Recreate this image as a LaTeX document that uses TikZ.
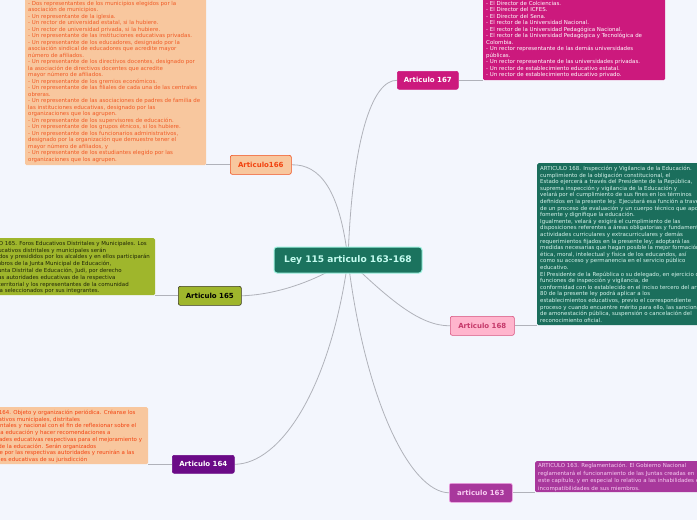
\documentclass[tikz,border=0pt]{standalone}
\usepackage{fontspec}
\setmainfont{DejaVu Sans}
\setsansfont{DejaVu Sans}
\pgfdeclarelayer{bg}
\pgfdeclarelayer{edges}
\pgfsetlayers{bg,edges,main}
\definecolor{bgc}{HTML}{F3F6FD}
\definecolor{edgec}{HTML}{B0B2BA}
\definecolor{cfill}{HTML}{1B735E}
\definecolor{cborder}{HTML}{9FF2E0}
\definecolor{ctext}{HTML}{C4FBEF}
\definecolor{magfill}{HTML}{CC197D}
\definecolor{orfill}{HTML}{F8C79E}
\definecolor{orborder}{HTML}{F0501E}
\definecolor{ortext}{HTML}{F2420F}
\definecolor{orboxtext}{HTML}{F05A24}
\definecolor{olfill}{HTML}{9FB62C}
\definecolor{olborder}{HTML}{3A3A20}
\definecolor{oltext}{HTML}{1E2408}
\definecolor{purfill}{HTML}{6B0A87}
\definecolor{pkfill}{HTML}{FFB5CD}
\definecolor{pkborder}{HTML}{D8527E}
\definecolor{pktext}{HTML}{C5396A}
\definecolor{grfill}{HTML}{1B6E5C}
\definecolor{grtext}{HTML}{D8F4EC}
\definecolor{vifill}{HTML}{A8389C}
\definecolor{viborder}{HTML}{F3A6E6}
\definecolor{vitext}{HTML}{F8CDF2}
\newcommand{\smallfs}{\fontsize{5.45}{6.5}\selectfont}
\tikzset{
  art/.style={rounded corners=2pt, inner sep=0pt, font=\fontsize{7}{8}\selectfont\bfseries, line width=0.6pt, anchor=north west},
  detbox/.style={rounded corners=1.5pt, inner sep=0pt, anchor=north west, draw=none},
  dettext/.style={inner sep=0pt, anchor=north west, align=left, font=\smallfs},
  conn/.style={draw=edgec, line width=0.8pt},
}
\begin{document}
\begin{tikzpicture}[x=1pt,y=-1pt]
\useasboundingbox (0,0) rectangle (697,520);
\clip (0,0) rectangle (697,520);
\begin{pgfonlayer}{bg}
\fill[bgc] (0,0) rectangle (697,520);
\end{pgfonlayer}

% central
\node[rounded corners=3pt, fill=cfill, draw=cborder, line width=1pt, minimum width=148pt, minimum height=26pt, inner sep=0pt, text=ctext, font=\fontsize{9.1}{11}\selectfont\bfseries] (c) at (348,260) {Ley 115 articulo 163-168};

% article nodes
\node[art, fill=magfill, draw=magfill, text=white, minimum width=61pt, minimum height=18pt] (a167) at (397,71) {Articulo 167};
\node[art, fill=orfill, draw=orborder, text=ortext, minimum width=61pt, minimum height=19pt] (a166) at (230,155) {Articulo166};
\node[art, fill=olfill, draw=olborder, text=black, minimum width=63pt, minimum height=19pt] (a165) at (178,286) {Articulo 165};
\node[art, fill=purfill, draw=purfill, text=white, minimum width=62pt, minimum height=18pt] (a164) at (172,455) {Articulo 164};
\node[art, fill=pkfill, draw=pkborder, text=pktext, minimum width=64pt, minimum height=19pt] (a168) at (450,316) {Articulo 168};
\node[art, fill=vifill, draw=viborder, text=vitext, minimum width=63pt, minimum height=19pt] (a163) at (449,483) {articulo 163};

% detail boxes
\node[detbox, fill=orfill, minimum width=181pt, minimum height=175pt] (b166) at (25,-10) {};
\node[dettext, text=orboxtext] (t166) at (28,1) {%
- Dos representantes de los municipios elegidos por la\\
asociación de municipios.\\
- Un representante de la iglesia.\\
- Un rector de universidad estatal, si la hubiere.\\
- Un rector de universidad privada, si la hubiere.\\
- Un representante de las instituciones educativas privadas.\\
- Un representante de los educadores, designado por la\\
asociación sindical de educadores que acredite mayor\\
número de afiliados.\\
- Un representante de los directivos docentes, designado por\\
la asociación de directivos docentes que acredite\\
mayor número de afiliados.\\
- Un representante de los gremios económicos.\\
- Un representante de las filiales de cada una de las centrales\\
obreras.\\
- Un representante de las asociaciones de padres de familia de\\
las instituciones educativas, designado por las\\
organizaciones que los agrupen.\\
- Un representante de los supervisores de educación.\\
- Un representante de los grupos étnicos, si los hubiere.\\
- Un representante de los funcionarios administrativos,\\
designado por la organización que demuestre tener el\\
mayor número de afiliados, y\\
- Un representante de los estudiantes elegido por las\\
organizaciones que los agrupen.};

\node[detbox, fill=magfill, minimum width=182pt, minimum height=90pt] (b167) at (483,-10) {};
\node[dettext, text=white] (t167) at (486,1) {%
- El Director de Colciencias.\\
- El Director del ICFES.\\
- El Director del Sena.\\
- El rector de la Universidad Nacional.\\
- El rector de la Universidad Pedagógica Nacional.\\
- El rector de la Universidad Pedagógica y Tecnológica de\\
Colombia.\\
- Un rector representante de las demás universidades\\
públicas.\\
- Un rector representante de las universidades privadas.\\
- Un rector de establecimiento educativo estatal.\\
- Un rector de establecimiento educativo privado.};

\node[detbox, fill=grfill, minimum width=180pt, minimum height=162pt] (b168) at (537,163) {};
\node[dettext, text=grtext, font=\fontsize{5.45}{6.6}\selectfont] (t168) at (540,166) {%
ARTICULO 168. Inspección y Vigilancia de la Educación.\\
cumplimiento de la obligación constitucional, el\\
Estado ejercerá a través del Presidente de la República,\\
suprema inspección y vigilancia de la Educación y\\
velará por el cumplimiento de sus fines en los términos\\
definidos en la presente ley. Ejecutará esa función a través\\
de un proceso de evaluación y un cuerpo técnico que apoye,\\
fomente y dignifique la educación.\\
Igualmente, velará y exigirá el cumplimiento de las\\
disposiciones referentes a áreas obligatorias y fundamentales,\\
actividades curriculares y extracurriculares y demás\\
requerimientos fijados en la presente ley; adoptará las\\
medidas necesarias que hagan posible la mejor formación\\
ética, moral, intelectual y física de los educandos, así\\
como su acceso y permanencia en el servicio público\\
educativo.\\
El Presidente de la República o su delegado, en ejercicio de las\\
funciones de inspección y vigilancia, de\\
conformidad con lo establecido en el inciso tercero del artículo\\
80 de la presente ley podrá aplicar a los\\
establecimientos educativos, previo el correspondiente\\
proceso y cuando encuentre mérito para ello, las sanciones\\
de amonestación pública, suspensión o cancelación del\\
reconocimiento oficial.};

\node[detbox, fill=olfill, minimum width=175pt, minimum height=57pt] (b165) at (-20,238) {};
\node[dettext, text=oltext, font=\fontsize{5.45}{6.8}\selectfont] (t165) at (-24,241) {%
ARTICULO 165. Foros Educativos Distritales y Municipales. Los\\
foros educativos distritales y municipales serán\\
convocados y presididos por los alcaldes y en ellos participarán\\
los miembros de la Junta Municipal de Educación,\\
o de la Junta Distrital de Educación, Judi, por derecho\\
propio, las autoridades educativas de la respectiva\\
entidad territorial y los representantes de la comunidad\\
educativa seleccionados por sus integrantes.};

\node[detbox, fill=orfill, minimum width=183pt, minimum height=57pt] (b164) at (-35,407) {};
\node[dettext, text=ortext, font=\fontsize{5.45}{6.7}\selectfont] (t164) at (-30,410) {%
ARTICULO 164. Objeto y organización periódica. Créanse los\\
foros educativos municipales, distritales\\
departamentales y nacional con el fin de reflexionar sobre el\\
estado de la educación y hacer recomendaciones a\\
las autoridades educativas respectivas para el mejoramiento y\\
cobertura de la educación. Serán organizados\\
anualmente por las respectivas autoridades y reunirán a las\\
comunidades educativas de su jurisdicción};

\node[detbox, fill=vifill, minimum width=180pt, minimum height=31pt] (b163) at (535,461) {};
\node[dettext, text=vitext, font=\fontsize{5.45}{7.5}\selectfont] (t163) at (538,463) {%
ARTICULO 163. Reglamentación. El Gobierno Nacional\\
reglamentará el funcionamiento de las Juntas creadas en\\
este capítulo, y en especial lo relativo a las inhabilidades e\\
incompatibilidades de sus miembros.};

% connectors
\begin{pgfonlayer}{edges}
\draw[conn] (c.center) .. controls (352,140) and (372,80) .. (a167.west);
\draw[conn] (c.center) .. controls (340,190) and (320,164) .. (a166.east);
\draw[conn] (c.center) .. controls (310,285) and (270,295) .. (a165.east);
\draw[conn] (c.center) .. controls (330,390) and (280,464) .. (a164.east);
\draw[conn] (c.center) .. controls (365,400) and (410,492) .. (a163.west);
\draw[conn] (c.center) .. controls (390,300) and (420,326) .. (a168.west);
\draw[conn] (a166.west) -- (a166.west -| b166.east);
\draw[conn] (a167.east) -- (a167.east -| b167.west);
\draw[conn] (a168.east) -- (a168.east -| b168.west);
\draw[conn] (a165.west) -- (a165.west -| b165.east);
\draw[conn] (a164.west) -- (a164.west -| b164.east);
\draw[conn] (a163.east) -- (a163.east -| b163.west);
\end{pgfonlayer}
\end{tikzpicture}
\end{document}
